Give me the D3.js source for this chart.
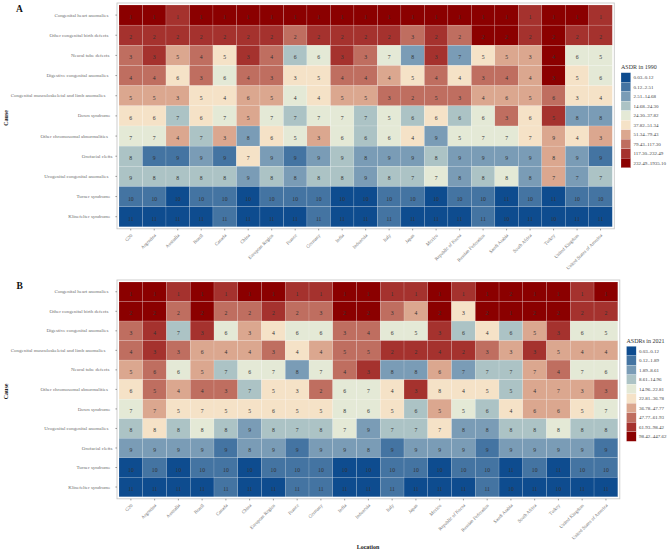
<!DOCTYPE html>
<html>
<head>
<meta charset="utf-8">
<script src="https://cdn.jsdelivr.net/npm/d3@7"></script>
<style>
  html, body { margin: 0; background: #fff; }
  svg { display: block; font-family: "Liberation Serif", serif; }
  .domain { display: none; }
</style>
</head>
<body>
<svg id="chart" width="669" height="552"></svg>
<script>
const locations = ['G20', 'Argentina', 'Australia', 'Brazil', 'Canada', 'China', 'European Region', 'France',
  'Germany', 'India', 'Indonesia', 'Italy', 'Japan', 'Mexico', 'Republic of Korea', 'Russian Federation',
  'Saudi Arabia', 'South Africa', 'Turkey', 'United Kingdom', 'United States of America'];

const causes1990 = ['Congenital heart anomalies', 'Other congenital birth defects', 'Neural tube defects',
  'Digestive congenital anomalies', 'Congenital musculoskeletal and limb anomalies', 'Down syndrome',
  'Other chromosomal abnormalities', 'Orofacial clefts', 'Urogenital congenital anomalies',
  'Turner syndrome', 'Klinefelter syndrome'];

const causes2021 = ['Congenital heart anomalies', 'Other congenital birth defects', 'Digestive congenital anomalies',
  'Congenital musculoskeletal and limb anomalies', 'Neural tube defects', 'Other chromosomal abnormalities',
  'Down syndrome', 'Urogenital congenital anomalies', 'Orofacial clefts', 'Turner syndrome', 'Klinefelter syndrome'];

// rank printed in each cell, one row per cause
const ranks1990 = [
  [1,1,1,1,1,1,1,1,1,1,1,1,1,1,1,1,1,1,1,1,1],
  [2,2,2,2,2,2,2,2,2,2,2,2,3,2,2,2,2,2,2,2,2],
  [3,3,5,4,5,3,4,6,6,3,3,7,8,3,7,5,5,3,4,6,5],
  [4,4,6,3,6,4,3,3,5,4,4,4,5,4,4,3,4,4,3,5,6],
  [5,5,3,5,4,6,5,4,4,5,5,3,2,5,3,4,6,5,6,3,4],
  [6,6,7,6,7,5,7,7,7,7,7,5,6,6,6,6,3,6,5,8,8],
  [7,7,4,7,3,8,6,5,3,6,6,6,4,9,5,7,7,7,9,4,3],
  [8,9,9,9,9,7,9,9,9,9,8,9,9,8,9,9,9,9,8,9,9],
  [9,8,8,8,8,9,8,8,8,8,9,8,7,7,8,8,8,8,7,7,7],
  [10,10,10,10,10,10,10,10,10,10,10,10,10,10,10,10,11,10,11,10,10],
  [11,11,11,11,11,11,11,11,11,11,11,11,11,11,11,11,10,11,10,11,11]
];

// legend class (0 = lowest ASDR band, 9 = highest) of each cell
const bands1990 = [
  [9,9,8,9,9,9,9,9,9,9,9,9,9,9,9,9,9,8,9,9,8],
  [8,8,8,8,8,8,8,7,8,8,8,8,7,8,7,9,9,8,9,8,8],
  [7,8,6,7,5,8,7,3,4,8,7,4,2,8,2,5,6,6,9,4,4],
  [7,7,5,7,4,7,7,5,5,7,7,6,5,7,5,7,7,6,9,5,4],
  [6,6,6,5,5,6,6,4,5,6,6,7,7,7,7,6,6,6,7,5,5],
  [5,5,3,5,4,6,4,3,4,4,3,4,3,5,3,4,7,5,8,2,2],
  [4,4,6,3,6,2,5,4,6,4,3,4,5,2,4,4,4,5,6,5,6],
  [3,1,1,2,1,5,2,1,2,3,2,2,2,3,2,2,2,2,6,2,1],
  [3,3,3,3,3,2,3,2,3,3,2,3,3,4,2,3,4,2,6,2,3],
  [1,1,0,1,1,0,1,1,1,0,0,1,1,0,1,1,0,1,0,1,1],
  [0,0,0,0,1,0,0,0,1,0,0,1,0,0,0,1,0,0,0,0,0]
];

const ranks2021 = [
  [1,1,1,1,1,1,1,1,1,1,1,1,1,1,1,1,2,1,1,1,1],
  [2,2,2,2,2,2,2,2,3,2,2,3,4,2,3,2,1,2,2,2,2],
  [3,4,7,3,6,3,4,6,6,3,4,6,5,3,6,4,6,5,3,6,5],
  [4,3,3,6,4,4,3,4,4,5,5,2,2,4,2,3,3,3,5,4,4],
  [5,6,6,5,7,6,7,8,7,4,3,8,8,6,7,7,7,7,4,7,6],
  [6,5,4,4,3,7,5,3,2,6,7,4,3,8,4,5,5,4,7,3,3],
  [7,7,5,7,5,5,6,5,5,8,6,5,6,5,5,6,4,6,6,5,7],
  [8,8,8,8,8,9,8,7,8,7,9,7,7,7,8,8,8,8,8,8,8],
  [9,9,9,9,9,8,9,9,9,9,8,9,9,9,9,9,9,9,9,9,9],
  [10,10,10,10,10,10,10,10,10,10,10,10,10,10,10,10,11,10,11,10,10],
  [11,11,11,11,11,11,11,11,11,11,11,11,11,11,11,11,10,11,10,11,11]
];

const bands2021 = [
  [9,9,8,9,8,9,9,8,8,9,9,8,8,9,8,9,9,9,9,8,9],
  [9,9,7,9,7,7,8,7,7,9,9,7,6,9,5,9,9,9,9,8,8],
  [7,8,3,8,4,6,5,4,4,7,7,4,4,8,3,5,3,6,8,4,4],
  [7,8,7,6,6,6,7,5,6,7,7,8,8,8,8,7,6,8,6,6,6],
  [6,7,4,6,3,4,4,2,4,7,8,2,2,6,2,3,3,6,7,4,4],
  [5,7,6,7,7,3,5,5,7,4,4,5,8,5,5,5,3,6,6,6,7],
  [4,6,5,5,5,5,5,5,5,4,4,5,3,6,4,3,5,6,6,5,4],
  [3,5,3,4,3,2,3,3,3,4,2,3,3,5,2,2,3,3,4,3,3],
  [2,2,2,2,1,2,2,1,2,2,2,1,2,2,2,1,2,2,2,2,1],
  [0,1,0,1,1,0,1,1,1,0,0,1,1,0,1,1,0,1,0,1,1],
  [0,0,0,0,1,0,0,1,1,0,0,1,0,0,0,1,0,0,0,0,0]
];

const legend1990 = ['0.03–0.12', '0.12–2.51', '2.51–14.68', '14.68–24.30', '24.30–37.82', '37.82–51.34',
  '51.34–79.43', '79.43–117.30', '117.30–232.49', '232.49–1935.10'];
const legend2021 = ['0.03–0.12', '0.12–1.89', '1.89–8.61', '8.61–14.96', '14.96–22.81', '22.81–36.78',
  '36.78–47.77', '47.77–61.93', '61.93–98.42', '98.42–447.62'];

const palette = ['#0e4c8f', '#4474a2', '#7a9cb6', '#acc3c5', '#e4e9d6', '#f5e2c7', '#dba78f', '#bf6e60', '#a5322e', '#8b0000'];

// the cause labels do not line up exactly on the right in the reference
const labelShift = {
  'Congenital heart anomalies': -2, 'Other congenital birth defects': -2, 'Neural tube defects': -1,
  'Digestive congenital anomalies': -2, 'Congenital musculoskeletal and limb anomalies': -5,
  'Other chromosomal abnormalities': -2.5, 'Orofacial clefts': 2, 'Urogenital congenital anomalies': -2
};

const bandColor = d3.scaleOrdinal().domain(d3.range(10)).range(palette);
const svg = d3.select('#chart');

function drawPanel(opts) {
  const g = svg.append('g');
  const [x0, x1] = opts.xRange, [y0, y1] = opts.yRange;

  const x = d3.scaleBand().domain(locations).range([x0, x1]);
  const y = d3.scaleBand().domain(opts.causes).range([y0, y1]);

  // light frame round the panel
  g.append('rect')
    .attr('x', x0 - 2).attr('y', y0 - 2)
    .attr('width', x1 - x0 + 4).attr('height', y1 - y0 + 4)
    .attr('fill', 'none').attr('stroke', '#c9c9c9').attr('stroke-width', 0.9);

  const cells = [];
  opts.causes.forEach((cause, r) => {
    locations.forEach((loc, c) => {
      cells.push({ cause, loc, rank: opts.ranks[r][c], band: opts.bands[r][c] });
    });
  });

  g.selectAll('rect.cell')
    .data(cells)
    .enter()
    .append('rect')
    .attr('class', 'cell')
    .attr('x', d => x(d.loc))
    .attr('y', d => y(d.cause))
    .attr('width', x.bandwidth())
    .attr('height', y.bandwidth())
    .attr('fill', d => bandColor(d.band))
    .attr('stroke', '#fff')
    .attr('stroke-opacity', 0.35)
    .attr('stroke-width', 0.4);

  g.selectAll('text.rank')
    .data(cells)
    .enter()
    .append('text')
    .attr('class', 'rank')
    .attr('x', d => x(d.loc) + x.bandwidth() / 2)
    .attr('y', d => y(d.cause) + y.bandwidth() / 2 + 4)
    .attr('text-anchor', 'middle')
    .attr('font-size', 5.7)
    .attr('fill', '#333')
    .text(d => d.rank);

  const bottom = g.append('g')
    .attr('transform', `translate(0,${y1 + 2})`)
    .call(d3.axisBottom(x).tickSize(1.6).tickPadding(0));
  bottom.selectAll('line').attr('stroke', '#444').attr('stroke-width', 0.5);
  bottom.selectAll('text')
    .attr('font-family', 'Liberation Serif')
    .attr('font-size', 4.8)
    .attr('fill', '#6e6e6e')
    .attr('text-anchor', 'end')
    .attr('y', 0)
    .attr('dy', 0)
    .attr('transform', 'translate(2,7) rotate(-45)');

  const left = g.append('g')
    .attr('transform', `translate(${x0 - 2},0)`)
    .call(d3.axisLeft(y).tickSize(1.6).tickPadding(5));
  left.selectAll('line').attr('stroke', '#444').attr('stroke-width', 0.5);
  left.selectAll('text')
    .attr('font-family', 'Liberation Serif')
    .attr('font-size', 4.95)
    .attr('fill', '#6e6e6e')
    .attr('dx', d => labelShift[d] || 0);

  // panel letter and cause title
  g.append('text')
    .attr('x', opts.letterPos[0]).attr('y', opts.letterPos[1])
    .attr('font-size', 9.5).attr('font-weight', 'bold').attr('fill', '#111')
    .text(opts.letter);

  g.append('text')
    .attr('transform', `translate(7.5,${(y0 + y1) / 2 + 2}) rotate(-90)`)
    .attr('text-anchor', 'middle')
    .attr('font-size', 6).attr('font-weight', 'bold').attr('fill', '#222')
    .text('Cause');

  // legend, lowest band on top
  const [lx, ly] = opts.legendPos;
  const ly2 = d3.scaleBand().domain(d3.range(10)).range([ly, ly + opts.legendHeight]);

  g.append('text')
    .attr('x', lx).attr('y', ly - 3.5)
    .attr('font-size', 6).attr('fill', '#333')
    .text(opts.legendTitle);

  g.selectAll('rect.key')
    .data(opts.legend)
    .enter()
    .append('rect')
    .attr('class', 'key')
    .attr('x', lx)
    .attr('y', (d, i) => ly2(i))
    .attr('width', 9.7)
    .attr('height', ly2.bandwidth())
    .attr('fill', (d, i) => bandColor(i))
    .attr('stroke', '#fff')
    .attr('stroke-opacity', 0.5)
    .attr('stroke-width', 0.4);

  g.selectAll('text.key')
    .data(opts.legend)
    .enter()
    .append('text')
    .attr('class', 'key')
    .attr('x', lx + 12.5)
    .attr('y', (d, i) => ly2(i) + ly2.bandwidth() / 2 + 1.6)
    .attr('font-size', 5)
    .attr('fill', '#444')
    .text(d => d);
}

drawPanel({
  letter: 'A', letterPos: [16, 12.3],
  causes: causes1990, ranks: ranks1990, bands: bands1990,
  xRange: [119, 612.3], yRange: [5, 226.8],
  legend: legend1990, legendTitle: 'ASDR in 1990',
  legendPos: [621, 72.7], legendHeight: 95
});

drawPanel({
  letter: 'B', letterPos: [16.5, 289],
  causes: causes2021, ranks: ranks2021, bands: bands2021,
  xRange: [119, 617.8], yRange: [282, 496.8],
  legend: legend2021, legendTitle: 'ASDRs in 2021',
  legendPos: [626.5, 346.3], legendHeight: 95
});

svg.append('text')
  .attr('x', 368).attr('y', 549)
  .attr('text-anchor', 'middle')
  .attr('font-size', 6).attr('font-weight', 'bold').attr('fill', '#222')
  .text('Location');
</script>
</body>
</html>
